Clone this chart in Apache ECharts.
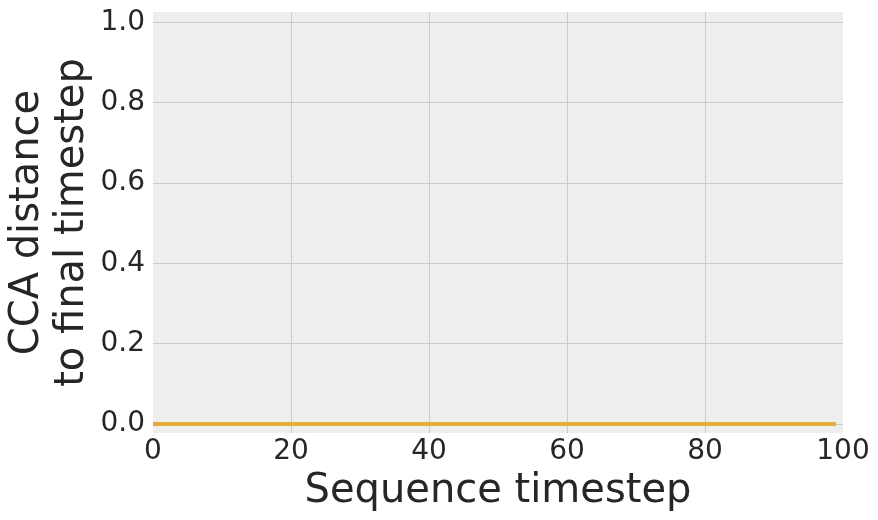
<!DOCTYPE html>
<html>
<head>
<meta charset="utf-8">
<script src="https://cdn.jsdelivr.net/npm/echarts@6/dist/echarts.min.js"></script>
<style>
  html, body { margin: 0; padding: 0; background: #fff; }
  #chart { width: 878px; height: 520px; }
</style>
</head>
<body>
<div id="chart"></div>
<script>
// data: the distance stays at 0 for every timestep
const steps = []
for (let i = 0; i < 100; i++) steps.push(i)
const distance = [
  0, 0, 0, 0, 0, 0, 0, 0, 0, 0,
  0, 0, 0, 0, 0, 0, 0, 0, 0, 0,
  0, 0, 0, 0, 0, 0, 0, 0, 0, 0,
  0, 0, 0, 0, 0, 0, 0, 0, 0, 0,
  0, 0, 0, 0, 0, 0, 0, 0, 0, 0,
  0, 0, 0, 0, 0, 0, 0, 0, 0, 0,
  0, 0, 0, 0, 0, 0, 0, 0, 0, 0,
  0, 0, 0, 0, 0, 0, 0, 0, 0, 0,
  0, 0, 0, 0, 0, 0, 0, 0, 0, 0,
  0, 0, 0, 0, 0, 0, 0, 0, 0, 0
]
const xTicks = [0, 20, 40, 60, 80, 100]
const yTicks = [0.0, 0.2, 0.4, 0.6, 0.8, 1.0]

const font = 'DejaVu Sans'
const textColor = '#262626'

const chart = echarts.init(document.getElementById('chart'))

chart.setOption({
  animation: false,
  grid: {
    left: 153, right: 35, top: 12, bottom: 87,
    outerBoundsMode: 'none',
    show: true, backgroundColor: '#eeeeee', borderWidth: 0
  },
  xAxis: {
    type: 'value',
    min: xTicks[0], max: xTicks[xTicks.length - 1], interval: 20,
    name: 'Sequence timestep',
    nameLocation: 'middle',
    nameGap: 39,
    nameMoveOverlap: false,
    nameTextStyle: { fontFamily: font, fontSize: 40, color: textColor },
    axisLine: { show: false },
    axisTick: { show: false },
    axisLabel: { fontFamily: font, fontSize: 28, color: textColor, margin: 5 },
    splitLine: {
      show: true, showMinLine: false, showMaxLine: false,
      lineStyle: { color: '#cbcbcb', width: 1 }
    }
  },
  yAxis: {
    type: 'value',
    min: -0.0225, max: 1.0257, splitNumber: 5,
    name: 'CCA distance\nto final timestep',
    nameLocation: 'middle',
    nameGap: 58,
    nameMoveOverlap: false,
    nameTextStyle: { fontFamily: font, fontSize: 40, color: textColor, lineHeight: 45 },
    axisLine: { show: false },
    axisTick: { show: false },
    axisLabel: {
      fontFamily: font, fontSize: 28, color: textColor, margin: 8,
      formatter: function (v) {
        var hit = yTicks.find(function (t) { return Math.abs(t - v) < 1e-6 })
        return hit === undefined ? '' : hit.toFixed(1)
      }
    },
    splitLine: {
      show: true, showMinLine: false, showMaxLine: false,
      lineStyle: { color: '#cbcbcb', width: 1 }
    }
  },
  series: [{
    type: 'line',
    data: steps.map(function (s, i) { return [s, distance[i]] }),
    showSymbol: false,
    lineStyle: { color: '#e5ae38', width: 4 },
    itemStyle: { color: '#e5ae38' }
  }]
})
</script>
</body>
</html>
